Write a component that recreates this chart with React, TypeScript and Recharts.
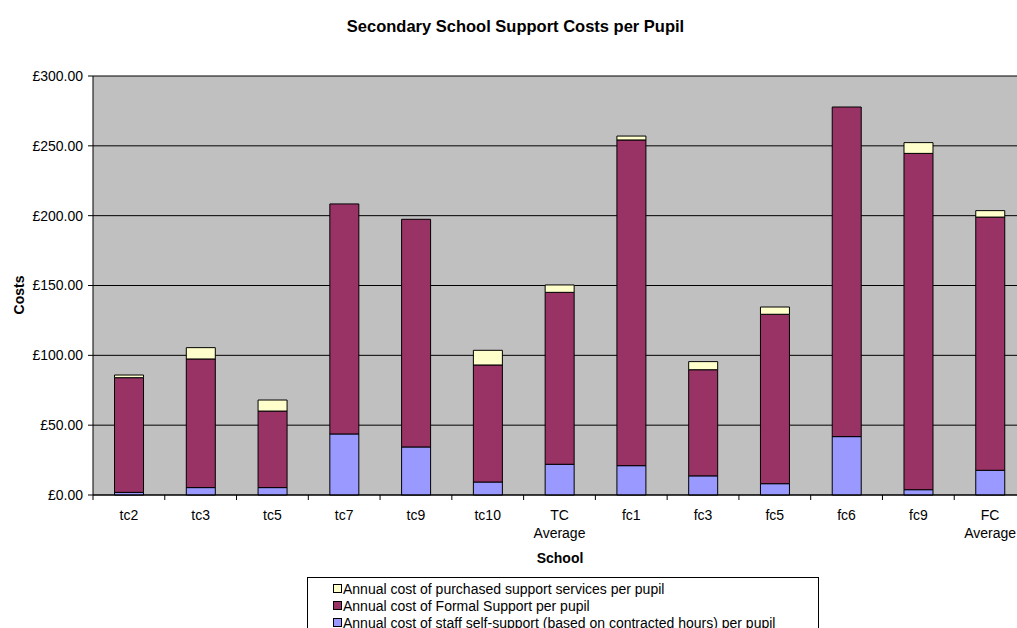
import { BarChart, Bar, XAxis, YAxis, CartesianGrid } from 'recharts';

const schools = ['tc2', 'tc3', 'tc5', 'tc7', 'tc9', 'tc10', 'TC Average', 'fc1', 'fc3', 'fc5', 'fc6', 'fc9', 'FC Average'];
const selfSupport = [1.9, 5.3, 5.3, 43.7, 34.4, 9.3, 22.0, 21.0, 13.7, 8.1, 41.8, 3.8, 17.7];
const formalSupport = [82.1, 92.1, 54.8, 164.7, 163.0, 83.8, 123.1, 233.2, 76.0, 121.3, 236.0, 240.8, 181.3];
const purchased = [1.9, 8.1, 7.9, 0, 0, 10.5, 5.3, 2.8, 5.8, 5.2, 0, 7.7, 4.6];
const yTicks = [0, 50, 100, 150, 200, 250, 300];

const series = [
    { key: 'purchased', name: 'Annual cost of purchased support services per pupil', color: '#FFFFCC' },
    { key: 'formal', name: 'Annual cost of Formal Support per pupil', color: '#993366' },
    { key: 'self', name: 'Annual cost of staff self-support (based on contracted hours) per pupil', color: '#9999FF' },
];

const data = schools.map((s, i) => ({
    school: s,
    self: selfSupport[i],
    formal: formalSupport[i],
    purchased: purchased[i],
}));

const CHART_W = 1040;
const PLOT_LEFT = 93;
const PLOT_RIGHT = 1026;
const band = (PLOT_RIGHT - PLOT_LEFT) / schools.length;
const font = '"Liberation Sans", Arial, sans-serif';

/* eslint-disable @typescript-eslint/no-explicit-any */
function SchoolTick({ x, y, payload }: any) {
    const lines = String(payload.value).split(' ');
    return (
        <g>
            <line x1={x - band / 2} x2={x - band / 2} y1={y} y2={y + 5} stroke="#000" />
            {lines.map((l, i) => (
                <text key={i} x={x} y={y + 25 + i * 18} textAnchor="middle" fontSize={14} fill="#000" fontFamily={font}>
                    {l}
                </text>
            ))}
        </g>
    );
}

export default function App() {
    return (
        <div style={{ position: 'absolute', left: 0, top: 0, width: 1017, height: 628, overflow: 'hidden', background: '#fff', fontFamily: font }}>
            {/* Title and axis titles */}
            <div style={{ position: 'absolute', left: 0, width: 1031, top: 17, textAlign: 'center', fontSize: 16.5, fontWeight: 'bold', lineHeight: '18px' }}>
                Secondary School Support Costs per Pupil
            </div>
            <div style={{ position: 'absolute', left: 19, top: 295, transform: 'translate(-50%, -50%) rotate(-90deg)', fontSize: 14, fontWeight: 'bold' }}>
                Costs
            </div>
            <div style={{ position: 'absolute', left: 560, top: 558, transform: 'translate(-50%, -50%)', fontSize: 14, fontWeight: 'bold' }}>
                School
            </div>

            {/* Chart runs past the right edge, as in the original */}
            <div style={{ position: 'absolute', left: 0, top: 0 }}>
                <BarChart width={CHART_W} height={628} data={data} margin={{ top: 76, right: CHART_W - PLOT_RIGHT, left: 8, bottom: 93 }} barCategoryGap="30%">
                    <CartesianGrid vertical={false} stroke="#000" fill="#C0C0C0" />
                    <YAxis
                        domain={[0, 300]}
                        ticks={yTicks}
                        width={85}
                        tickSize={5}
                        tickMargin={5}
                        tickFormatter={(v: number) => `£${v.toFixed(2)}`}
                        tick={{ fontSize: 14, fill: '#000', fontFamily: font }}
                        axisLine={{ stroke: '#000' }}
                        tickLine={{ stroke: '#000' }}
                    />
                    <XAxis
                        dataKey="school"
                        height={40}
                        interval={0}
                        tickLine={false}
                        tickSize={0}
                        tickMargin={0}
                        tick={<SchoolTick />}
                        axisLine={{ stroke: '#000' }}
                    />
                    <Bar dataKey="self" stackId="a" fill="#9999FF" stroke="#000" strokeWidth={1} isAnimationActive={false} />
                    <Bar dataKey="formal" stackId="a" fill="#993366" stroke="#000" strokeWidth={1} isAnimationActive={false} />
                    <Bar dataKey="purchased" stackId="a" fill="#FFFFCC" stroke="#000" strokeWidth={1} isAnimationActive={false} />
                </BarChart>
            </div>

            {/* Legend box, cut by the bottom edge like the reference */}
            <div style={{ position: 'absolute', left: 307, top: 577, width: 510, height: 70, border: '1px solid #000', background: '#fff' }}>
                {series.map((s, i) => (
                    <div key={s.key} style={{ position: 'absolute', left: 25, top: 2 + i * 17, height: 17, display: 'flex', alignItems: 'center', fontSize: 14, whiteSpace: 'nowrap' }}>
                        <span style={{ display: 'inline-block', width: 7, height: 7, border: '1px solid #000', background: s.color, marginRight: 1 }} />
                        {s.name}
                    </div>
                ))}
            </div>
        </div>
    );
}
